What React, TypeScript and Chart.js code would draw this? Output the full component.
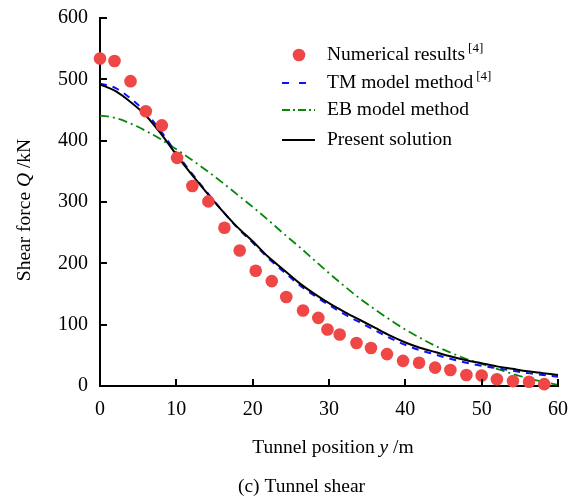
import React, { useEffect, useRef } from "react";
import { Chart, registerables } from "chart.js";
Chart.register(...registerables);

const curveX = [0, 2, 4, 6, 8, 10, 12, 14, 16, 18, 20, 22, 24, 26, 28, 30, 32, 34, 36, 38, 40, 42, 44, 46, 48, 50, 52, 54, 56, 58, 60];
const presentY = [492, 481, 463, 441, 411, 377, 345, 315, 286, 259, 236, 211, 190, 169, 151, 135, 121, 108, 95, 82, 71, 62, 55, 48, 42, 37, 32, 28, 24, 21, 18];
const tmY = [493, 486, 469, 446, 415, 380, 347, 316, 286, 258, 234, 209, 187, 166, 148, 132, 117, 104, 91, 78, 67, 58, 51, 44, 38, 33, 29, 25, 21, 18, 15];
const ebY = [441, 437, 428, 416, 402, 386, 369, 351, 332, 312, 292, 271, 249, 228, 206, 184, 163, 143, 125, 108, 92, 78, 65, 54, 44, 36, 28, 20, 13, 7, 2];
const numX = [0, 1.9, 4.0, 6.0, 8.1, 10.1, 12.1, 14.2, 16.3, 18.3, 20.4, 22.5, 24.4, 26.6, 28.6, 29.8, 31.4, 33.6, 35.5, 37.6, 39.7, 41.8, 43.9, 45.9, 48, 50, 52, 54.1, 56.2, 58.2];
const numY = [534, 530, 497, 448, 425, 372, 326, 301, 258, 221, 188, 171, 145, 123, 111, 92, 84, 70, 62, 52, 41, 38, 30, 26, 18, 17, 11, 8, 7, 3];
const xTicks = [0, 10, 20, 30, 40, 50, 60];
const yTicks = [0, 100, 200, 300, 400, 500, 600];

const FONT = "'Liberation Serif', 'Times New Roman', serif";
const RED = "#ef4646";
const BLUE = "#1010ff";
const GREEN = "#0a850a";

const overlay = {
  id: "overlay",
  afterDraw(chart: any) {
    const ctx = chart.ctx;
    const xs = chart.scales.x;
    const ys = chart.scales.y;
    const ca = chart.chartArea;
    ctx.save();
    // inward ticks
    ctx.strokeStyle = "#000";
    ctx.lineWidth = 2;
    ctx.beginPath();
    for (const v of yTicks) {
      const p = Math.round(ys.getPixelForValue(v));
      ctx.moveTo(ca.left, p);
      ctx.lineTo(ca.left + 7, p);
    }
    for (const v of xTicks) {
      const p = Math.round(xs.getPixelForValue(v));
      ctx.moveTo(p, ca.bottom);
      ctx.lineTo(p, ca.bottom - 7);
    }
    ctx.stroke();

    ctx.fillStyle = "#000";
    ctx.textBaseline = "middle";
    const fs = 19.5;
    const normal = `${fs}px ${FONT}`;
    const italic = `italic ${fs}px ${FONT}`;
    const drawParts = (parts: [string, string][], cx: number, cy: number) => {
      let total = 0;
      for (const [t, f] of parts) { ctx.font = f; total += ctx.measureText(t).width; }
      let x = cx - total / 2;
      ctx.textAlign = "left";
      for (const [t, f] of parts) { ctx.font = f; ctx.fillText(t, x, cy); x += ctx.measureText(t).width; }
    };
    // x title
    drawParts([["Tunnel position ", normal], ["y", italic], [" /m", normal]], 333, 448);
    // y title
    ctx.save();
    ctx.translate(25, 210);
    ctx.rotate(-Math.PI / 2);
    drawParts([["Shear force ", normal], ["Q", italic], [" /kN", normal]], 0, 0);
    ctx.restore();
    // caption
    drawParts([["(c) Tunnel shear", normal]], 301.5, 487);

    // legend
    const tx = 327;
    const rows = [55, 83, 110, 140];
    const sup = (x: number, y: number) => {
      ctx.font = `13px ${FONT}`;
      ctx.fillText("[4]", x + 3, y - 6);
    };
    ctx.fillStyle = RED;
    ctx.beginPath();
    ctx.arc(299, rows[0], 6.3, 0, Math.PI * 2);
    ctx.fill();
    const line = (y: number, color: string, dash: number[], w: number) => {
      ctx.strokeStyle = color;
      ctx.lineWidth = w;
      ctx.setLineDash(dash);
      ctx.beginPath();
      ctx.moveTo(282, y);
      ctx.lineTo(315, y);
      ctx.stroke();
      ctx.setLineDash([]);
    };
    line(rows[1], BLUE, [7, 10], 2);
    line(rows[2], GREEN, [8, 3, 2, 3], 2);
    line(rows[3], "#000", [], 2);
    ctx.fillStyle = "#000";
    ctx.textAlign = "left";
    const labels = ["Numerical results", "TM model method", "EB model method", "Present solution"];
    labels.forEach((l, i) => {
      ctx.font = normal;
      ctx.fillText(l, tx, rows[i]);
      if (i < 2) sup(tx + ctx.measureText(l).width, rows[i]);
    });
    ctx.restore();
  },
};

export default function App() {
  const ref = useRef<HTMLCanvasElement | null>(null);
  useEffect(() => {
    if (!ref.current) return;
    const pts = (xsArr: number[], ysArr: number[]) => xsArr.map((x, i) => ({ x, y: ysArr[i] }));
    const chart = new Chart(ref.current, {
      type: "scatter",
      data: {
        datasets: [
          {
            label: "Numerical results",
            data: pts(numX, numY),
            backgroundColor: RED,
            borderWidth: 0,
            pointRadius: 6.3,
            showLine: false,
            order: 0,
          } as any,
          {
            label: "Present solution",
            data: pts(curveX, presentY),
            borderColor: "#000",
            borderWidth: 2,
            pointRadius: 0,
            showLine: true,
            cubicInterpolationMode: "monotone",
            order: 1,
          },
          {
            label: "TM model method",
            data: pts(curveX, tmY),
            borderColor: BLUE,
            borderWidth: 2,
            borderDash: [7, 6],
            pointRadius: 0,
            showLine: true,
            cubicInterpolationMode: "monotone",
            order: 2,
          },
          {
            label: "EB model method",
            data: pts(curveX, ebY),
            borderColor: GREEN,
            borderWidth: 1.8,
            borderDash: [9, 4, 2, 4],
            pointRadius: 0,
            showLine: true,
            cubicInterpolationMode: "monotone",
            order: 3,
          },
        ],
      },
      options: {
        animation: false,
        responsive: false,
        devicePixelRatio: 1,
        clip: false as any,
        layout: { padding: { left: 0, right: 16, top: 18, bottom: 0 } },
        plugins: { legend: { display: false }, tooltip: { enabled: false } },
        scales: {
          x: {
            type: "linear",
            min: 0,
            max: 60,
            afterFit: (s: any) => { s.height = 113; s.paddingLeft = 0; s.paddingRight = 0; },
            afterBuildTicks: (s: any) => { s.ticks = xTicks.map((v) => ({ value: v })); },
            grid: { display: false, drawTicks: false },
            border: { display: true, color: "#000", width: 2 },
            ticks: { color: "#000", padding: 12, font: { family: FONT, size: 20 }, maxRotation: 0 },
          },
          y: {
            type: "linear",
            min: 0,
            max: 600,
            afterFit: (s: any) => { s.width = 100; s.paddingTop = 0; s.paddingBottom = 0; },
            afterBuildTicks: (s: any) => { s.ticks = yTicks.map((v) => ({ value: v })); },
            grid: { display: false, drawTicks: false },
            border: { display: true, color: "#000", width: 2 },
            ticks: { color: "#000", padding: 12, font: { family: FONT, size: 20 } },
          },
        },
      },
      plugins: [overlay],
    });
    return () => chart.destroy();
  }, []);
  return (
    <div style={{ position: "fixed", left: 0, top: 0, width: 574, height: 499, background: "#fff" }}>
      <canvas ref={ref} width={574} height={499} style={{ width: 574, height: 499 }} />
    </div>
  );
}
